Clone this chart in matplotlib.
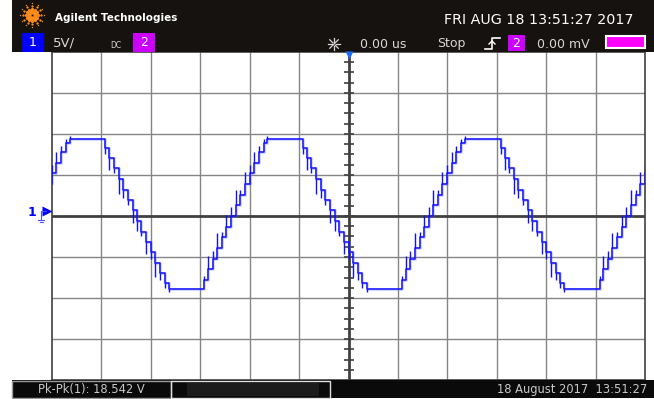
import numpy as np
import matplotlib
matplotlib.use("Agg")
import matplotlib.pyplot as plt
from matplotlib.patches import Rectangle

# --- trace data (x in divisions, y in volts, 5 V/div) ---
top_level = 9.4
bottom_level = -8.9
# one period, relative to the start of the top plateau
fall_t = [0.72, 0.80, 0.89, 0.99, 1.08, 1.17, 1.27, 1.36, 1.45, 1.55, 1.64, 1.73, 1.83, 1.92, 2.01]
fall_v = [8.3, 7.1, 5.8, 4.5, 3.2, 2.0, 0.7, -0.6, -1.9, -3.2, -4.4, -5.7, -7.0, -8.2, -8.9]
fall_spike = [0.8, 1.5, 0.6, 1.8, 1.0, 0.7, 1.6, 1.2, 0.5, 1.4, 0.9, 1.7, 0.8, 0.6, 0.4]
rise_t = [2.72, 2.80, 2.89, 2.98, 3.08, 3.17, 3.26, 3.36, 3.45, 3.54, 3.64, 3.73, 3.82, 3.92, 4.00]
rise_v = [-7.8, -6.5, -5.2, -3.9, -2.6, -1.3, 0.0, 1.3, 2.6, 3.9, 5.2, 6.5, 7.8, 8.9, 9.4]
rise_spike = [0.5, 1.6, 0.9, 1.8, 0.7, 1.4, 1.1, 1.9, 0.6, 1.5, 1.0, 1.3, 0.7, 0.5, 0.3]
period_starts = [-9.64, -5.64, -1.64, 2.36]

header_left = "Agilent Technologies"
header_date = "FRI AUG 18 13:51:27 2017"
meas_text = "Pk-Pk(1): 18.542 V"
foot_date = "18 August 2017  13:51:27"

W, H = 654, 399
fig = plt.figure(figsize=(W / 100, H / 100), dpi=100)
fig.patch.set_facecolor("white")

# main graticule, 12 x 8 divisions
ax = fig.add_axes([52 / W, 1 - 380 / H, (645 - 52) / W, (380 - 52) / H])
ax.set_xlim(-6, 6)
ax.set_ylim(-20, 20)
ax.set_facecolor("white")
for gx in range(-5, 6):
    if gx != 0:
        ax.axvline(gx, color="#858585", lw=1.0, zorder=1)
for gy in range(-15, 20, 5):
    if gy != 0:
        ax.axhline(gy, color="#858585", lw=1.0, zorder=1)
ax.axvline(0, color="#404040", lw=2.0, zorder=2)
ax.axhline(0, color="#404040", lw=2.0, zorder=2)
ax.plot(np.zeros(31), np.arange(-15, 16) * 1.25, ls="none", marker="_",
        ms=7, mew=1.2, color="#404040", zorder=2)
for s in ax.spines.values():
    s.set_color("#404040")
    s.set_linewidth(1.2)
ax.set_xticks([])
ax.set_yticks([])

# waveform
tt, vv = [], []
spk_t, spk_lo, spk_hi = [], [], []
for p in period_starts:
    tt.append(p)
    vv.append(top_level)
    for t, v, s in zip(fall_t, fall_v, fall_spike):
        tt.append(p + t)
        vv.append(v)
        spk_t.append(p + t)
        spk_lo.append(v - s)
        spk_hi.append(v)
    for t, v, s in zip(rise_t, rise_v, rise_spike):
        tt.append(p + t)
        vv.append(v)
        spk_t.append(p + t)
        spk_lo.append(v)
        spk_hi.append(v + s)
ax.plot(tt, vv, drawstyle="steps-post", color="#6070ff", lw=2.0, alpha=0.3, zorder=3)
ax.plot(tt, vv, drawstyle="steps-post", color="#1010ff", lw=1.1, zorder=4)
ax.vlines(spk_t, spk_lo, spk_hi, color="#1010ff", lw=1.0, zorder=4)

# overlay in pixel coordinates for the scope frame
ov = fig.add_axes([0, 0, 1, 1])
ov.set_xlim(0, W)
ov.set_ylim(H, 0)
ov.axis("off")
ov.patch.set_alpha(0)

ov.add_patch(Rectangle((12, 0), W - 12, 52, facecolor="#15120f", edgecolor="none"))
ov.add_patch(Rectangle((12, 380), W - 12, 18, facecolor="#0a0a0a", edgecolor="none"))

# logo starburst
for ang in np.arange(0, 360, 30):
    a = np.deg2rad(ang)
    for r, sz in zip([3, 6, 9, 12], [9, 7, 5, 3]):
        ov.plot(32 + r * np.cos(a), 15 + r * np.sin(a), "o", ms=sz / 3,
                color="#ff8c1a", mec="none")
ov.text(55, 18, header_left, color="white", fontsize=7.5, fontweight="bold",
        family="DejaVu Sans", va="center", ha="left")
ov.text(634, 20, header_date, color="white", fontsize=10.3,
        family="DejaVu Sans", va="center", ha="right")

# second header row
ov.add_patch(Rectangle((22, 33), 22, 19, facecolor="#0000ff", edgecolor="none"))
ov.text(33, 43, "1", color="white", fontsize=9, va="center", ha="center")
ov.text(53, 43, "5V/", color="#d8d8d8", fontsize=9.5, va="center", ha="left")
ov.text(110, 46, "DC", color="#d8d8d8", fontsize=5.5, va="center", ha="left")
ov.add_patch(Rectangle((133, 33), 22, 19, facecolor="#cc00ff", edgecolor="none"))
ov.text(144, 43, "2", color="white", fontsize=9, va="center", ha="center")

for ang in np.arange(0, 360, 45):
    a = np.deg2rad(ang)
    ov.plot([334 + 1.5 * np.cos(a), 334 + 6 * np.cos(a)],
            [44 + 1.5 * np.sin(a), 44 + 6 * np.sin(a)], color="#d8d8d8", lw=0.9)
ov.text(360, 44, "0.00 us", color="#d8d8d8", fontsize=9, va="center", ha="left")
ov.text(437, 44, "Stop", color="#d8d8d8", fontsize=9, va="center", ha="left")
ov.plot([485, 492, 492, 500], [49, 49, 38, 38], color="white", lw=1.2)
ov.plot([489, 492, 495], [44, 41, 44], color="white", lw=1.0)
ov.add_patch(Rectangle((508, 35), 17, 16, facecolor="#cc00ff", edgecolor="none"))
ov.text(516.5, 43.5, "2", color="white", fontsize=9, va="center", ha="center")
ov.text(537, 44, "0.00 mV", color="#d8d8d8", fontsize=9, va="center", ha="left")
ov.add_patch(Rectangle((606, 36), 39, 12, facecolor="#ff00ff", edgecolor="white", lw=1.5))

# markers: trigger position and channel 1 ground
ov.plot(349, 55, marker="v", ms=6, color="#1e6cff", mec="none")
ov.text(32, 212, "1", color="#0000ff", fontsize=9, fontweight="bold", va="center", ha="center")
ov.plot(47, 211, marker=">", ms=7, color="#0000ff", mec="none")
ov.plot([38, 44], [220, 220], color="#5050ff", lw=0.8)
ov.plot([39.5, 42.5], [222, 222], color="#5050ff", lw=0.8)
ov.plot([41, 41, 46], [220, 211, 211], color="#5050ff", lw=0.8)

# footer
ov.add_patch(Rectangle((12, 380.5), 159, 17, facecolor="none", edgecolor="#9a9a9a", lw=1))
ov.add_patch(Rectangle((171, 380.5), 159, 17, facecolor="none", edgecolor="#e0e0e0", lw=1))
ov.add_patch(Rectangle((187, 383), 132, 13, facecolor="#1c1c1c", edgecolor="none"))
ov.text(91, 389.5, meas_text, color="#c8c8c8", fontsize=8.3, va="center", ha="center")
ov.text(647, 389.5, foot_date, color="#c8c8c8", fontsize=8.3, va="center", ha="right")

fig.savefig("out.png", dpi=100, facecolor=fig.get_facecolor())
